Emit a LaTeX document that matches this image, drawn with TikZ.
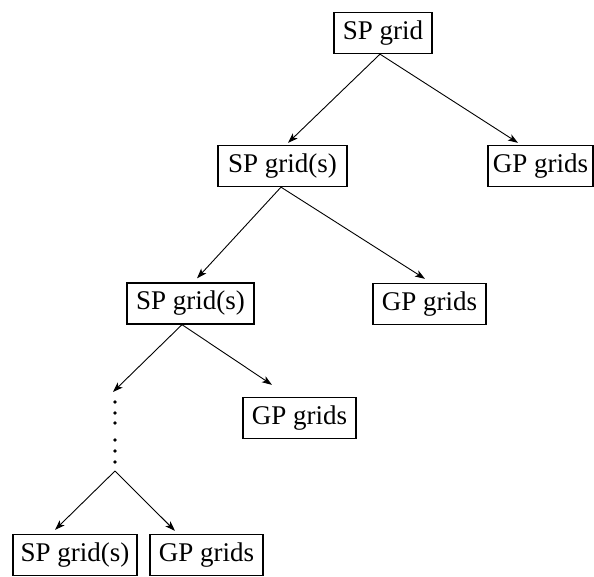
\documentclass[tikz,border=0pt]{standalone}
\usepackage{fontspec}
\setmainfont{Liberation Serif}
\usetikzlibrary{arrows.meta}
\begin{document}
\begin{tikzpicture}[x=1pt,y=-1pt,
  gridbox/.style={draw, line width=1.3pt, minimum height=41pt, inner sep=0pt,
    font=\fontsize{27}{30}\selectfont},
  arr/.style={-{Stealth[length=10pt,width=7pt,inset=2.5pt]}, line width=0.9pt},
  vdot/.style={fill, circle, inner sep=0pt, minimum size=3.6pt}]
\useasboundingbox (0,0) rectangle (594,577);

% grid hierarchy
\node[gridbox, minimum width=98pt]  (sp1) at (383,33)    {SP grid};
\node[gridbox, minimum width=129pt] (sp2) at (282.5,166) {SP grid(s)};
\node[gridbox, minimum width=105pt] (gp1) at (540.5,166) {GP grids};
\node[gridbox, minimum width=127pt] (sp3) at (190.5,303.5) {SP grid(s)};
\node[gridbox, minimum width=113pt] (gp2) at (429.5,304) {GP grids};
\node[gridbox, minimum width=113pt] (gp3) at (299.5,418) {GP grids};
\node[gridbox, minimum width=124pt] (sp4) at (75,555)    {SP grid(s)};
\node[gridbox, minimum width=113pt] (gp4) at (206.5,555) {GP grids};

% elided levels
\coordinate (dtop) at (113,392);
\coordinate (dbot) at (115,471);
\foreach \i/\y in {1/402,2/413,3/423,4/440,5/451,6/462}
  \node[vdot] (d\i) at (115,\y) {};

% refinements
\draw[arr] ([xshift=-3pt]sp1.south) -- ([xshift=5.5pt,yshift=2pt]sp2.north);
\draw[arr] ([xshift=-3pt]sp1.south) -- ([xshift=-22.5pt,yshift=2pt]gp1.north);
\draw[arr] ([xshift=-1.5pt]sp2.south) -- ([xshift=6.5pt,yshift=4pt]sp3.north);
\draw[arr] ([xshift=-1.5pt]sp2.south) -- ([xshift=-4.5pt,yshift=4pt]gp2.north);
\draw[arr] ([xshift=-8.5pt]sp3.south) -- (dtop);
\draw[arr] ([xshift=-8.5pt]sp3.south) -- ([xshift=-27.5pt,yshift=12pt]gp3.north);
\draw[arr] (dbot) -- ([xshift=-20pt,yshift=4pt]sp4.north);
\draw[arr] (dbot) -- ([xshift=-31.5pt,yshift=3pt]gp4.north);
\end{tikzpicture}
\end{document}
